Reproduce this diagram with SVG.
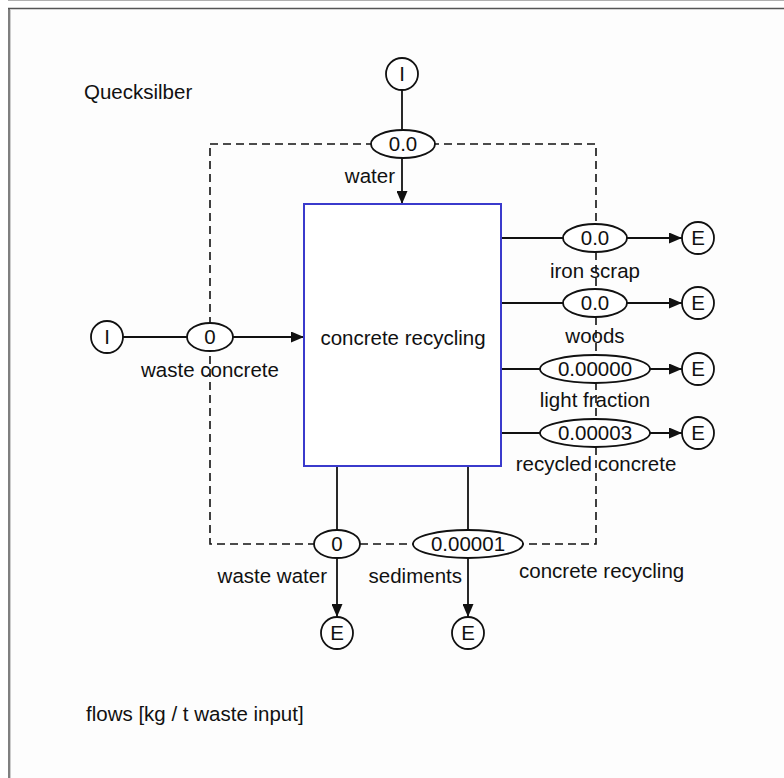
<svg xmlns="http://www.w3.org/2000/svg" width="784" height="778" viewBox="0 0 784 778">
  <style>
    text { font-family: "Liberation Sans", Arial, sans-serif; font-size: 20.5px; fill: #111111; }
    .mid { text-anchor: middle; }
    .end { text-anchor: end; }
    .flow { fill: none; stroke: #111111; stroke-width: 1.8; }
    .dash { fill: none; stroke: #111111; stroke-width: 1.6; stroke-dasharray: 8 5; }
    .val { fill: #ffffff; stroke: #111111; stroke-width: 1.8; }
    .term { fill: #ffffff; stroke: #111111; stroke-width: 1.8; }
    .proc { fill: #ffffff; stroke: #3a3acc; stroke-width: 2; }
  </style>
  <defs>
    <marker id="arrow" viewBox="0 0 13 11" refX="13" refY="5.5" markerWidth="13" markerHeight="11" markerUnits="userSpaceOnUse" orient="auto">
      <path d="M0,0 L13,5.5 L0,11 Z" fill="#111111"/>
    </marker>
  </defs>

  <!-- page frame -->
  <rect x="0" y="0" width="784" height="778" fill="#ffffff"/>
  <rect x="9" y="8" width="775" height="770" fill="#fdfdfd"/>
  <line x1="8" y1="0.5" x2="784" y2="0.5" stroke="#b0b0b0" stroke-width="1"/>
  <line x1="8" y1="8.5" x2="784" y2="8.5" stroke="#555555" stroke-width="1.5"/>
  <line x1="9" y1="8" x2="9" y2="778" stroke="#555555" stroke-width="1.5"/>
  <line x1="10.5" y1="9" x2="10.5" y2="778" stroke="#cccccc" stroke-width="1"/>

  <!-- system boundary -->
  <g id="boundary">
    <rect class="dash" x="210" y="144" width="386" height="400"/>
  </g>

  <!-- connectors -->
  <g id="connectors">
    <line class="flow" x1="402" y1="90" x2="402" y2="204" marker-end="url(#arrow)"/>
    <line class="flow" x1="123" y1="337" x2="304" y2="337" marker-end="url(#arrow)"/>
    <line class="flow" x1="501" y1="238" x2="682" y2="238" marker-end="url(#arrow)"/>
    <line class="flow" x1="501" y1="303" x2="682" y2="303" marker-end="url(#arrow)"/>
    <line class="flow" x1="501" y1="369" x2="682" y2="369" marker-end="url(#arrow)"/>
    <line class="flow" x1="501" y1="433" x2="682" y2="433" marker-end="url(#arrow)"/>
    <line class="flow" x1="337" y1="466" x2="337" y2="617" marker-end="url(#arrow)"/>
    <line class="flow" x1="468" y1="466" x2="468" y2="617" marker-end="url(#arrow)"/>
  </g>

  <!-- process -->
  <g id="process">
    <rect class="proc" x="304" y="204" width="197" height="262"/>
    <text class="mid" x="403" y="345">concrete recycling</text>
  </g>

  <!-- inputs -->
  <g id="in-water">
    <circle class="term" cx="402" cy="74" r="16"/>
    <text class="mid" x="402" y="81">I</text>
  </g>
  <g id="in-waste-concrete">
    <circle class="term" cx="107" cy="337" r="16"/>
    <text class="mid" x="107" y="344">I</text>
  </g>

  <!-- flow values -->
  <g id="v-water">
    <ellipse class="val" cx="403" cy="144" rx="32" ry="14"/>
    <text class="mid" x="403" y="151">0.0</text>
    <text class="end" x="395" y="183">water</text>
  </g>
  <g id="v-waste-concrete">
    <ellipse class="val" cx="210" cy="337" rx="23" ry="14"/>
    <text class="mid" x="210" y="344">0</text>
  </g>
  <g id="v-iron-scrap">
    <ellipse class="val" cx="595" cy="238" rx="32" ry="14"/>
    <text class="mid" x="595" y="245">0.0</text>
  </g>
  <g id="v-woods">
    <ellipse class="val" cx="595" cy="303" rx="32" ry="14"/>
    <text class="mid" x="595" y="310">0.0</text>
  </g>
  <g id="v-light-fraction">
    <ellipse class="val" cx="595" cy="369" rx="55" ry="14"/>
    <text class="mid" x="595" y="376">0.00000</text>
  </g>
  <g id="v-recycled-concrete">
    <ellipse class="val" cx="595" cy="433" rx="55" ry="14"/>
    <text class="mid" x="595" y="440">0.00003</text>
  </g>
  <g id="v-waste-water">
    <ellipse class="val" cx="337" cy="544" rx="23" ry="14"/>
    <text class="mid" x="337" y="551">0</text>
  </g>
  <g id="v-sediments">
    <ellipse class="val" cx="468" cy="544" rx="55" ry="14"/>
    <text class="mid" x="468" y="551">0.00001</text>
  </g>

  <!-- outputs -->
  <g id="out-iron-scrap">
    <circle class="term" cx="698" cy="238" r="16"/>
    <text class="mid" x="698" y="245">E</text>
  </g>
  <g id="out-woods">
    <circle class="term" cx="698" cy="303" r="16"/>
    <text class="mid" x="698" y="310">E</text>
  </g>
  <g id="out-light-fraction">
    <circle class="term" cx="698" cy="369" r="16"/>
    <text class="mid" x="698" y="376">E</text>
  </g>
  <g id="out-recycled-concrete">
    <circle class="term" cx="698" cy="433" r="16"/>
    <text class="mid" x="698" y="440">E</text>
  </g>
  <g id="out-waste-water">
    <circle class="term" cx="337" cy="633" r="16"/>
    <text class="mid" x="337" y="640">E</text>
  </g>
  <g id="out-sediments">
    <circle class="term" cx="468" cy="633" r="16"/>
    <text class="mid" x="468" y="640">E</text>
  </g>

  <!-- flow labels -->
  <g id="labels">
    <text class="mid" x="210" y="377">waste concrete</text>
    <text class="mid" x="595" y="278">iron scrap</text>
    <text class="mid" x="595" y="343">woods</text>
    <text class="mid" x="595" y="407">light fraction</text>
    <text class="mid" x="596" y="471">recycled concrete</text>
    <text class="end" x="327" y="583">waste water</text>
    <text class="end" x="462" y="583">sediments</text>
    <text x="519" y="578">concrete recycling</text>
    <text x="84" y="99">Quecksilber</text>
    <text x="86" y="721">flows [kg / t waste input]</text>
  </g>
</svg>
